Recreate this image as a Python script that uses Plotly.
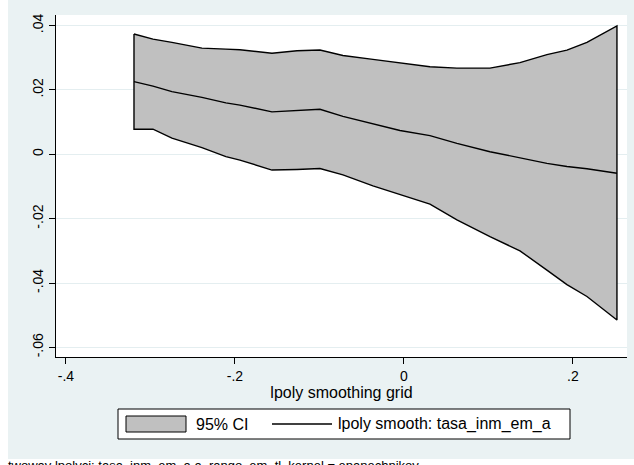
import plotly.graph_objects as go

# lpoly smoothing grid values
grid = [-0.3195, -0.2970, -0.2746, -0.2391, -0.2107, -0.1941, -0.1562, -0.1266,
        -0.0994, -0.0722, -0.0367, -0.0047, 0.0308, 0.0627, 0.1018, 0.1373,
        0.1692, 0.1929, 0.2166, 0.2521]
# lpoly smooth: tasa_inm_em_a
smooth = [0.0226, 0.0212, 0.0195, 0.0177, 0.0160, 0.0153, 0.0132, 0.0137,
          0.0140, 0.0118, 0.0095, 0.0074, 0.0058, 0.0034, 0.0008, -0.0012,
          -0.0028, -0.0038, -0.0045, -0.0059]
# 95% CI bounds
ci_upper = [0.0374, 0.0358, 0.0348, 0.0330, 0.0327, 0.0325, 0.0314, 0.0322,
            0.0324, 0.0307, 0.0295, 0.0283, 0.0272, 0.0268, 0.0268, 0.0285,
            0.0310, 0.0324, 0.0348, 0.0399]
ci_lower = [0.0078, 0.0078, 0.0050, 0.0021, -0.0007, -0.0018, -0.0049, -0.0047,
            -0.0044, -0.0064, -0.0098, -0.0125, -0.0155, -0.0204, -0.0256, -0.0300,
            -0.0360, -0.0405, -0.0442, -0.0515]

x_ticks = [-0.4, -0.2, 0, 0.2]
x_tick_labels = ["-.4", "-.2", "0", ".2"]
y_ticks = [-0.06, -0.04, -0.02, 0, 0.02, 0.04]
y_tick_labels = ["-.06", "-.04", "-.02", "0", ".02", ".04"]

legend_ci = "95% CI"
legend_smooth = "lpoly smooth: tasa_inm_em_a"
x_title = "lpoly smoothing grid"
note_text = "twoway lpolyci: tasa_inm_em_a a_rango_em_tl, kernel = epanechnikov"

W, H = 634, 465
L, R, T, B = 56, 7, 15, 108
PW = W - L - R
PH = H - T - B
FONT = "Liberation Sans, Arial, sans-serif"
BG = "#eaf2f3"


def px2x(px):
    return (px - L) / PW


def py2y(py):
    return (H - B - py) / PH


fig = go.Figure()

# CI band as closed polygon
band_x = grid + grid[::-1] + [grid[0]]
band_y = ci_upper + ci_lower[::-1] + [ci_upper[0]]
fig.add_trace(go.Scatter(
    x=band_x, y=band_y, mode="lines", fill="toself",
    fillcolor="#c0c0c0", line=dict(color="black", width=1.4),
    name=legend_ci, showlegend=False, hoverinfo="skip"))

fig.add_trace(go.Scatter(
    x=grid, y=smooth, mode="lines",
    line=dict(color="black", width=1.4),
    name=legend_smooth, showlegend=False))

shapes = []
# white strips outside the light graph region
shapes.append(dict(type="rect", xref="paper", yref="paper",
                   x0=px2x(-5), x1=px2x(8), y0=py2y(475), y1=py2y(-5),
                   fillcolor="white", line=dict(width=0), layer="below"))
shapes.append(dict(type="rect", xref="paper", yref="paper",
                   x0=px2x(-5), x1=px2x(640), y0=py2y(475), y1=py2y(459),
                   fillcolor="white", line=dict(width=0), layer="below"))
# legend box
shapes.append(dict(type="rect", xref="paper", yref="paper",
                   x0=px2x(118), x1=px2x(570), y0=py2y(439), y1=py2y(409),
                   fillcolor="white", line=dict(color="black", width=1), layer="above"))
# legend CI swatch
shapes.append(dict(type="rect", xref="paper", yref="paper",
                   x0=px2x(126), x1=px2x(186), y0=py2y(432), y1=py2y(416),
                   fillcolor="#c0c0c0", line=dict(color="black", width=1), layer="above"))
# legend line swatch
shapes.append(dict(type="line", xref="paper", yref="paper",
                   x0=px2x(272), x1=px2x(332), y0=py2y(424), y1=py2y(424),
                   line=dict(color="black", width=1.4), layer="above"))

annotations = [
    dict(text=legend_ci, xref="paper", yref="paper", x=px2x(194), y=py2y(424),
         xanchor="left", yanchor="middle", showarrow=False,
         font=dict(family=FONT, size=16, color="black")),
    dict(text=legend_smooth, xref="paper", yref="paper", x=px2x(336), y=py2y(424),
         xanchor="left", yanchor="middle", showarrow=False,
         font=dict(family=FONT, size=16, color="black")),
    dict(text=note_text, xref="paper", yref="paper", x=px2x(6), y=py2y(456),
         xanchor="left", yanchor="top", showarrow=False,
         font=dict(family=FONT, size=13, color="black")),
]

fig.update_layout(
    width=W, height=H,
    margin=dict(l=L, r=R, t=T, b=B, pad=0, autoexpand=False),
    paper_bgcolor=BG, plot_bgcolor="white",
    font=dict(family=FONT, size=14, color="black"),
    shapes=shapes, annotations=annotations,
    showlegend=False,
    xaxis=dict(range=[-0.4118, 0.264], tickvals=x_ticks, ticktext=x_tick_labels,
               showgrid=False, zeroline=False, showline=True, linecolor="black",
               linewidth=1, ticks="outside", ticklen=6, tickcolor="black",
               automargin=False,
               tickfont=dict(family=FONT, size=14),
               title=dict(text=x_title, font=dict(family=FONT, size=16), standoff=0)),
    yaxis=dict(range=[-0.0630, 0.0433], tickvals=y_ticks, ticktext=y_tick_labels,
               showgrid=True, gridcolor="#e4eef0", gridwidth=1, zeroline=False,
               showline=True, linecolor="black", linewidth=1, ticks="outside",
               ticklen=6, tickcolor="black", tickangle=-90, automargin=False,
               tickfont=dict(family=FONT, size=14)),
)

fig.write_html("out.html", config={"displayModeBar": False},
               post_script="document.body.style.margin='0';document.body.style.overflow='hidden';")
